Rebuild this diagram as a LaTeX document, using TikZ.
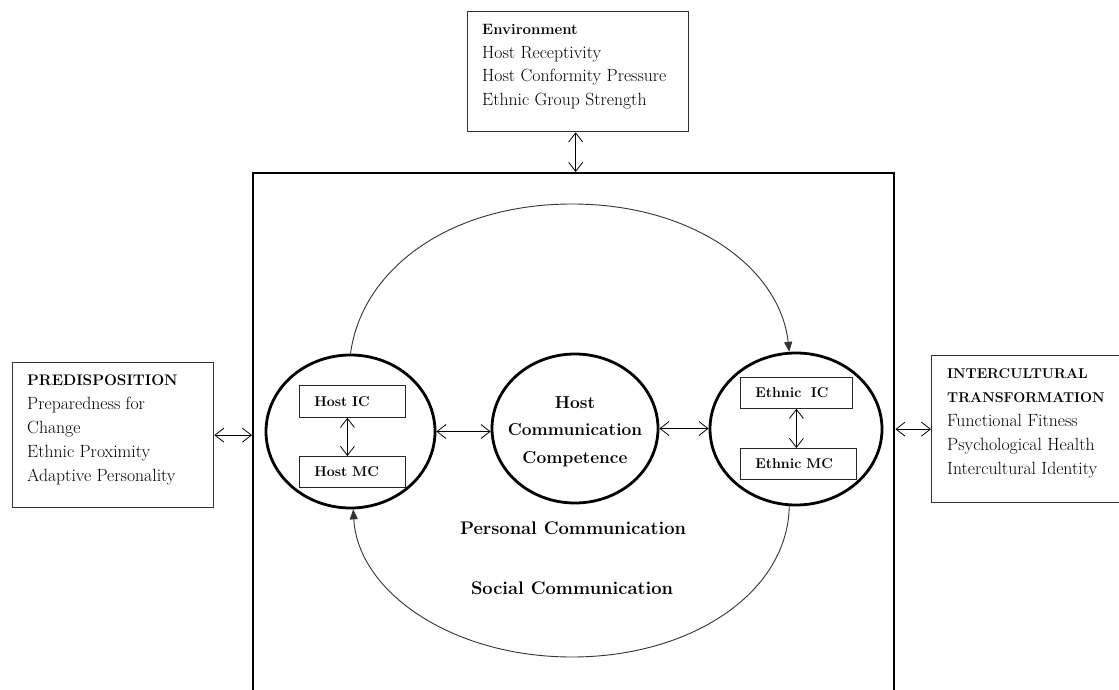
\documentclass[tikz,border=0pt]{standalone}
\usepackage{fontspec}
\usetikzlibrary{shapes.geometric,arrows.meta}
\begin{document}
\begin{tikzpicture}[x=1pt,y=-1pt,
  infobox/.style={draw=black!80, line width=1.3pt, rectangle, inner sep=0pt, anchor=north west},
  infotext/.style={anchor=north west, inner sep=0pt, align=left, font=\fontsize{17.7}{24}\selectfont},
  bubble/.style={draw, ellipse, line width=2.8pt, inner sep=0pt},
  tagbox/.style={draw=black!85, line width=0.8pt, rectangle, inner xsep=15pt, inner ysep=0pt,
    anchor=north west, align=left, font=\bfseries\fontsize{14.2}{16}\selectfont},
  twoway/.style={{Straight Barb[length=9pt,width=14pt]}-{Straight Barb[length=9pt,width=14pt]}, line width=0.8pt},
  flow/.style={-{Triangle[length=10pt,width=8pt]}, line width=0.9pt, draw=black!80},
  caption/.style={font=\bfseries\fontsize{18.3}{20}\selectfont, inner sep=0pt}
]
\useasboundingbox (0,0) rectangle (1119,690);
\fill[white] (0,0) rectangle (1119,690);
\clip (0,0) rectangle (1119,690);

% outer frame (continues below the page edge)
\node[draw, line width=2.4pt, minimum width=641pt, minimum height=560pt, anchor=north west, inner sep=0pt] (frame) at (252,172) {};

% side boxes
\node[infobox, minimum width=221pt, minimum height=120pt] (env) at (467,11) {};
\node[infotext, font=\fontsize{17.7}{23.5}\selectfont] (envt) at (482,24.2)
  {{\bfseries\fontsize{15}{23.5}\selectfont Environment}\\Host Receptivity\\Host Conformity Pressure\\Ethnic Group Strength};

\node[infobox, minimum width=201pt, minimum height=145pt] (pre) at (12,362) {};
\node[infotext] (pret) at (27,374.6)
  {{\bfseries\fontsize{15.3}{24}\selectfont PREDISPOSITION}\\Preparedness for\\Change\\Ethnic Proximity\\Adaptive Personality};

\node[infobox, minimum width=210pt, minimum height=147pt] (trans) at (931,355) {};
\node[infotext] (transt) at (947,368)
  {{\bfseries\fontsize{14.2}{24}\selectfont INTERCULTURAL}\\{\bfseries\fontsize{14.2}{24}\selectfont TRANSFORMATION}\\Functional Fitness\\Psychological Health\\Intercultural Identity};

% the three circles
\node[bubble, minimum width=169pt, minimum height=153pt] (lc) at (350.5,431.5) {};
\node[bubble, minimum width=166pt, minimum height=149pt] (mc) at (575,428.5) {};
\node[align=center, inner sep=0pt, font=\bfseries\fontsize{17.3}{27.5}\selectfont] (mct) at (575,431.5) {Host\\Communication\\Competence};
\node[bubble, minimum width=172pt, minimum height=152pt] (rc) at (796,429) {};

% inner boxes
\node[tagbox, text width=76pt, minimum height=32pt] (hic) at (299,385) {Host IC};
\node[tagbox, text width=76pt, minimum height=31pt] (hmc) at (299,456) {Host MC};
\node[tagbox, text width=82pt, minimum height=31pt] (eic) at (740,377) {Ethnic~ IC};
\node[tagbox, text width=86pt, minimum height=31pt] (emc) at (740,448) {Ethnic MC};

% captions
\node[caption] (pc) at (573,528) {Personal Communication};
\node[caption] (sc) at (572,588) {Social Communication};

% two-way links
\draw[twoway] ([xshift=-2.5pt]env.south) -- ([xshift=-2.5pt]env.south |- frame.north);
\draw[twoway] (pre.east) -- (pre.east -| frame.west);
\draw[twoway] (frame.east |- trans.west) -- (trans.west);
\draw[twoway] (lc.east) -- (lc.east -| mc.west);
\draw[twoway] (mc.east) -- (mc.east -| rc.west);
\draw[twoway] ([xshift=-5pt]hic.south) -- ([xshift=-5pt]hmc.north);
\draw[twoway] (eic.south) -- (eic.south |- emc.north);

% arcs between host and ethnic circles
\draw[flow] (lc.north) .. controls (362,268) and (451,204) .. (572,204)
  .. controls (693,204) and (780,268) .. (rc.95);
\draw[flow] (rc.265) .. controls (788,592) and (692,657) .. (572,657)
  .. controls (452,657) and (358,592) .. (lc.272);
\end{tikzpicture}
\end{document}
